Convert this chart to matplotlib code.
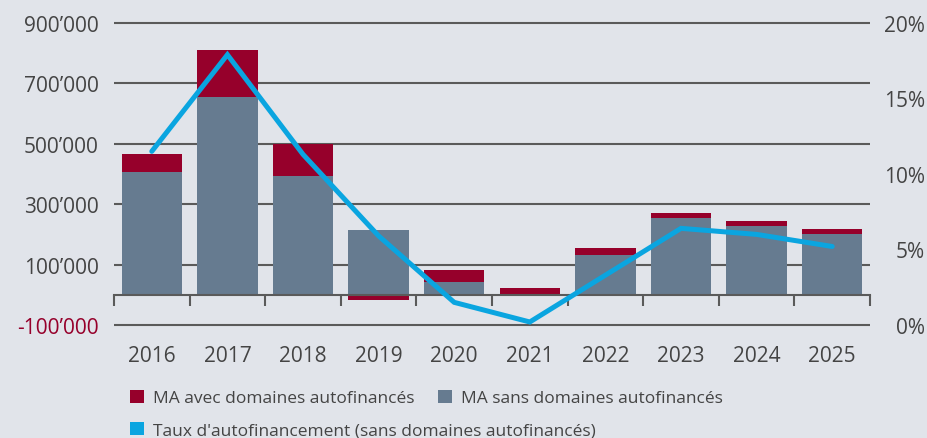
import matplotlib
matplotlib.use('Agg')
import matplotlib.pyplot as plt
import numpy as np
from matplotlib.patches import Patch

# ---------------- data ----------------
years = ['2016', '2017', '2018', '2019', '2020', '2021', '2022', '2023', '2024', '2025']
ma_sans_domaines = [407000, 656000, 394000, 215000, 43000, 0, 132000, 255000, 228000, 202000]
part_domaines_autofinances = [60000, 155000, 106000, -18000, 40000, 23000, 24000, 17000, 17000, 16000]
taux_autofinancement = [11.5, 17.9, 11.3, 5.9, 1.5, 0.2, 3.3, 6.4, 6.0, 5.2]

left_ticks = [-100000, 100000, 300000, 500000, 700000, 900000]
left_labels = ["-100\u2019000", "100\u2019000", "300\u2019000", "500\u2019000", "700\u2019000", "900\u2019000"]
right_ticks = [0, 5, 10, 15, 20]
right_labels = ["0%", "5%", "10%", "15%", "20%"]
legend_labels = ["MA avec domaines autofinancés", "MA sans domaines autofinancés",
                 "Taux d'autofinancement (sans domaines autofinancés)"]

# ---------------- style ----------------
BG = '#e1e4ea'
RED = '#96002b'
GRAY = '#667b90'
BLUE = '#0aa5e0'
GRID = '#5a5a5a'
TXT = '#444444'

plt.rcParams['font.family'] = ['Open Sans', 'DejaVu Sans']

W, H = 928, 439
fig = plt.figure(figsize=(W / 100, H / 100), dpi=100, facecolor=BG)

ymin, ymax = -100000, 900000
m = 5000
ppu = (326 - 24) / (ymax - ymin)
ax_top_px = 24 - m * ppu
ax_bot_px = 326 + m * ppu
ax = fig.add_axes([114 / W, 1 - ax_bot_px / H, (870 - 114) / W, (ax_bot_px - ax_top_px) / H])
ax.set_facecolor(BG)

x = np.arange(len(years))
sans = np.array(ma_sans_domaines, dtype=float)
dom = np.array(part_domaines_autofinances, dtype=float)
bottoms = np.where(dom >= 0, np.maximum(sans, 0), np.minimum(sans, 0))

ax.bar(x, sans, 0.8, color=GRAY, zorder=2, linewidth=0)
ax.bar(x, dom, 0.8, bottom=bottoms, color=RED, zorder=2, linewidth=0)

ax.set_xlim(-0.5, len(years) - 0.5)
ax.set_ylim(ymin - m, ymax + m)

ax.set_yticks(left_ticks, labels=left_labels)
ax.yaxis.grid(True, color=GRID, linewidth=1.5, zorder=1)
ax.set_axisbelow(True)
ax.tick_params(axis='y', length=0, pad=11, labelsize=15, labelcolor=TXT)
ax.get_yticklabels()[0].set_color(RED)

for s in ['top', 'left', 'right']:
    ax.spines[s].set_visible(False)
ax.spines['bottom'].set_position(('data', 0))
ax.spines['bottom'].set_color(GRID)
ax.spines['bottom'].set_linewidth(1.5)
ax.spines['bottom'].set_zorder(3)

ax.set_xticks(np.arange(-0.5, len(years), 1.0))
ax.set_xticklabels([])
ax.tick_params(axis='x', which='major', length=8, width=1.5, color=GRID, direction='out')
ax.set_xticks(x, minor=True)
ax.set_xticklabels(years, minor=True)
ax.tick_params(axis='x', which='minor', length=0, pad=36, labelsize=15, labelcolor=TXT)

# right axis
ax2 = ax.twinx()
to_pct = lambda v: (v - ymin) / (ymax - ymin) * 20
ax2.set_ylim(to_pct(ymin - m), to_pct(ymax + m))
ax2.set_yticks(right_ticks, labels=right_labels)
ax2.tick_params(axis='y', length=0, pad=39.5, labelsize=15, labelcolor=TXT)
plt.setp(ax2.get_yticklabels(), ha='right')
for s in ax2.spines.values():
    s.set_visible(False)

ax2.plot(x, taux_autofinancement, color=BLUE, linewidth=3.6, solid_capstyle='round',
         solid_joinstyle='miter', zorder=4)

# legends
h_red = Patch(facecolor=RED, edgecolor='none')
h_gray = Patch(facecolor=GRAY, edgecolor='none')
h_blue = Patch(facecolor=BLUE, edgecolor='none')
common = dict(frameon=False, fontsize=12.5, handlelength=0.78, handleheight=0.78,
              handletextpad=0.55, columnspacing=1.35, borderpad=0, borderaxespad=0,
              labelcolor=TXT, loc='center left')
leg1 = fig.legend([h_red, h_gray], legend_labels[:2], ncol=2,
                  bbox_to_anchor=(130 / W, 1 - 399 / H), **common)
leg2 = fig.legend([h_blue], legend_labels[2:], ncol=1,
                  bbox_to_anchor=(130 / W, 1 - 431 / H), **common)

fig.savefig('out.png', dpi=100, facecolor=BG)
